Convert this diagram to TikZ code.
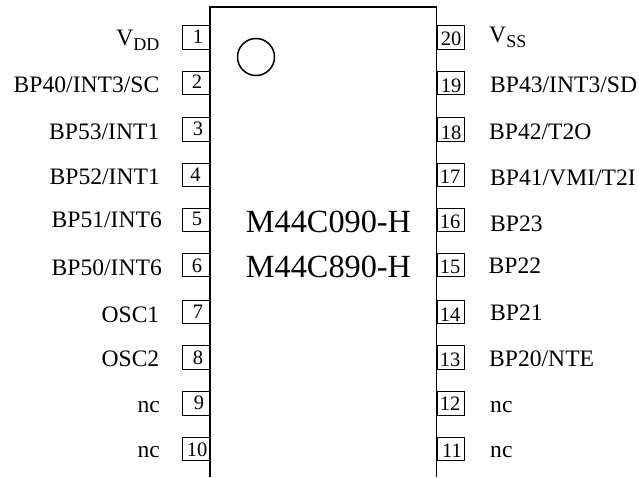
\documentclass[tikz,border=0pt]{standalone}
\usepackage{fontspec}
\setmainfont{Liberation Serif}
\tikzset{
  pinbox/.style={draw=black,line width=1pt,minimum width=27.5pt,minimum height=23.5pt,inner sep=0pt,anchor=north west},
  pinnum/.style={font=\fontsize{20.5}{21}\selectfont,inner sep=0pt,anchor=base},
  lbl/.style={font=\fontsize{23.6}{26}\selectfont,inner sep=0pt},
  lleft/.style={lbl,anchor=base east},
  lright/.style={lbl,anchor=base west},
  chiptext/.style={font=\fontsize{32.3}{34}\selectfont,inner sep=0pt,anchor=base},
}
\newcommand{\subsc}[1]{\raisebox{-0.25em}{\fontsize{18}{19}\selectfont #1}}
\begin{document}
\begin{tikzpicture}[x=1pt,y=-1pt]
\useasboundingbox (0,0) rectangle (639,477);
\foreach \n/\yt/\nx/\nb/\lx/\lb/\txt in {
 1/25/198/43/159.5/45/{V\subsc{DD}},
 2/70.5/197/88/159.5/92/{BP40/INT3/SC},
 3/117/198/135/159.5/139/{BP53/INT1},
 4/162.5/195.5/181/160/184/{BP52/INT1},
 5/207.5/197/225/162/227/{BP51/INT6},
 6/252.5/197/272/162/275/{BP50/INT6},
 7/299.5/198/318/159.5/322/{OSC1},
 8/345/198/364/159.5/366/{OSC2},
 9/391/199/409/160/412/{nc},
 10/436.5/197/456/160/457/{nc}}{
  \node[pinbox] (p\n) at (181.5,\yt) {};
  \node[pinnum] (n\n) at (\nx,\nb) {\n};
  \node[lleft] (l\n) at (\lx,\lb) {\txt};
}
\foreach \n/\yt/\nx/\nb/\lx/\lb/\txt in {
 20/25/451/45/489/42/{V\subsc{SS}},
 19/70.5/451/92/490/92/{BP43/INT3/SD},
 18/117/451/139/489/139/{BP42/T2O},
 17/162.5/450/183/490/185/{BP41/VMI/T2I},
 16/207.5/450/228/490/231/{BP23},
 15/252.5/450/273/488.5/273/{BP22},
 14/299.5/450/321/490/320/{BP21},
 13/345/450/366/489/366/{BP20/NTE},
 12/391/450/410/490/412/{nc},
 11/436.5/452/457/490/457/{nc}}{
  \node[pinbox] (p\n) at (436.5,\yt) {};
  \node[pinnum] (n\n) at (\nx,\nb) {\n};
  \node[lright] (l\n) at (\lx,\lb) {\txt};
}
\coordinate (bl) at (210,477);
\coordinate (tl) at (210,7);
\coordinate (tr) at (436.5,7);
\coordinate (br) at (436.5,477);
\draw[line width=1.6pt] (bl) -- (tl) -- (tr) -- (br);
\node[draw,circle,line width=1.5pt,minimum size=37pt,inner sep=0pt] (dot) at (256,57) {};
\node[chiptext] (c1) at (328.5,232) {M44C090-H};
\node[chiptext] (c2) at (328.5,277) {M44C890-H};
\end{tikzpicture}
\end{document}
